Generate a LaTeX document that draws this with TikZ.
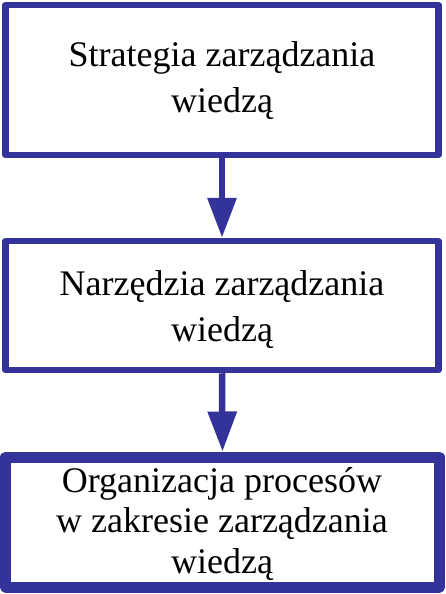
\documentclass[tikz,border=0pt]{standalone}
\usepackage{fontspec}
\setmainfont{Liberation Serif}
\usepackage{tikz}
\usetikzlibrary{arrows.meta}
\definecolor{frame}{RGB}{51, 51, 153}

\begin{document}
\begin{tikzpicture}[x=1pt, y=-1pt,
    box/.style={draw=frame, line width=6.5, line join=round, rectangle, inner sep=0},
    boxtext/.style={align=center, inner sep=0, font=\fontsize{36}{46}\selectfont},
    flow/.style={draw=frame, line width=6.5, -{Triangle[length=40, width=28]}}]
  \useasboundingbox (0, 0) rectangle (445, 594);

  % the three stages
  \node[box, minimum width=433, minimum height=150] (strategy) at (222, 80) {};
  \node[box, minimum width=433, minimum height=129] (tools) at (222, 305.5) {};
  \node[box, line width=11, minimum width=434, minimum height=130] (process) at (222.5, 522) {};

  \node[boxtext] (strategytext) at (222, 81) {Strategia zarządzania\\wiedzą};
  \node[boxtext] (toolstext) at (222, 310) {Narzędzia zarządzania\\wiedzą};
  \node[boxtext, font=\fontsize{36}{40.5}\selectfont] (processtext) at (222, 524)
    {Organizacja procesów\\w zakresie zarządzania\\wiedzą};

  % arrows between the stages
  \draw[flow] (strategy.south) -- (tools.north);
  \draw[flow] (tools.south) -- (process.north);

\end{tikzpicture}
\end{document}
